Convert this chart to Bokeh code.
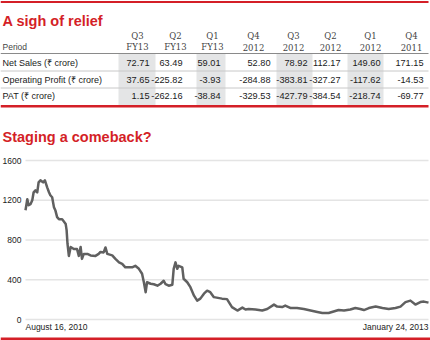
import pandas as pd
from bokeh.plotting import figure
from bokeh.models import Range1d
from bokeh.core.properties import value
from bokeh.embed import file_html
from bokeh.resources import INLINE

# ---------------- data ----------------
quarters = ["Q3", "Q2", "Q1", "Q4", "Q3", "Q2", "Q1", "Q4"]
years = ["FY13", "FY13", "FY13", "2012", "2012", "2012", "2012", "2011"]
row_labels = ["Net Sales (\u20b9 crore)", "Operating Profit (\u20b9 crore)", "PAT (\u20b9 crore)"]
net_sales = [72.71, 63.49, 59.01, 52.80, 78.92, 112.17, 149.60, 171.15]
op_profit = [37.65, -225.82, -3.93, -284.88, -383.81, -327.27, -117.62, -14.53]
pat = [1.15, -262.16, -38.84, -329.53, -427.79, -384.54, -218.74, -69.77]

start_date = "2010-08-16"
day_offsets = [0, 4, 7, 11, 15, 18, 22, 26, 29, 33, 39, 43, 48, 52, 55, 59, 63, 66, 70, 74,
               81, 89, 91, 93, 96, 100, 107, 114, 118, 122, 125, 129, 137, 144, 155, 162, 166,
               173, 177, 181, 192, 199, 207, 214, 221, 236, 243, 251, 258, 262, 266, 269, 277,
               284, 292, 299, 306, 310, 317, 325, 328, 332, 336, 339, 347, 350, 358, 365, 373,
               380, 387, 395, 402, 409, 417, 435, 446, 457, 469, 480, 487, 494, 509, 524, 535,
               550, 557, 568, 575, 587, 601, 616, 631, 646, 657, 671, 682, 693, 705, 719, 730,
               741, 749, 760, 775, 790, 804, 819, 830, 841, 852, 863, 874, 882, 892]
prices = [1100, 1210, 1150, 1160, 1200, 1280, 1300, 1280, 1380, 1400, 1380, 1400, 1330, 1280,
          1250, 1230, 1130, 1100, 1030, 1010, 1010, 960, 900, 760, 640, 730, 710, 710, 640, 730,
          610, 660, 660, 645, 640, 660, 680, 675, 725, 660, 645, 610, 575, 560, 525, 525, 540,
          510, 460, 375, 275, 375, 360, 355, 340, 360, 390, 355, 340, 350, 510, 575, 510, 540,
          525, 410, 375, 325, 240, 190, 210, 260, 290, 275, 225, 210, 205, 125, 90, 120, 100,
          105, 100, 90, 105, 150, 130, 125, 140, 115, 115, 105, 90, 75, 65, 65, 80, 95, 90, 100,
          115, 105, 95, 115, 130, 115, 105, 115, 130, 175, 190, 150, 175, 180, 170]
date_labels = ["August 16, 2010", "January 24, 2013"]
y_ticks = [0, 400, 800, 1200, 1600]
y_tick_labels = [str(v) for v in y_ticks]

dates = pd.Timestamp(start_date) + pd.to_timedelta(day_offsets, unit="D")

# ---------------- styles / layout ----------------
W, H = 430, 340
RED = "#d41f27"
SANS = "'Liberation Sans', Arial, sans-serif"
SERIF = "'DejaVu Serif', serif"
SHADE = "#e4e5e6"

# chart plot area in canvas pixels
PLOT_LEFT, PLOT_RIGHT, PLOT_TOP, PLOT_BOTTOM = 25, 428, 160, 319

col_left = [118, 155, 196, 225, 276, 312, 347, 383]
col_right = [155, 196, 225, 276, 312, 347, 383, 428]
val_right = [149, 182, 220, 270, 307, 340, 380, 423]
head_center = [137, 175, 212, 253, 293, 330, 370, 411]
row_y = [62, 79, 95]

# ranges: data ranges chosen so the chart area lands at the plot box above
t0 = dates[0].value / 1e6
t1 = dates[-1].value / 1e6
ms_per_px = (t1 - t0) / (PLOT_RIGHT - PLOT_LEFT)
x_range = Range1d(t0 - PLOT_LEFT * ms_per_px, t1 + (W - PLOT_RIGHT) * ms_per_px)
v_per_px = (max(y_ticks) - min(y_ticks)) / (PLOT_BOTTOM - PLOT_TOP)
y_range = Range1d(min(y_ticks) - (H - PLOT_BOTTOM) * v_per_px,
                  max(y_ticks) + PLOT_TOP * v_per_px)

p = figure(width=W, height=H, x_range=x_range, y_range=y_range,
           x_axis_type=None, y_axis_type=None, toolbar_location=None,
           output_backend="svg", min_border=0, outline_line_color=None,
           background_fill_color="white", border_fill_color="white")
p.extra_x_ranges = {"px": Range1d(0, W)}
p.extra_y_ranges = {"py": Range1d(H, 0)}
PX = dict(x_range_name="px", y_range_name="py")

# ---------------- table ----------------
shaded = [i for i in range(len(quarters)) if i % 2 == 0]
p.quad(left=[col_left[i] for i in shaded], right=[col_right[i] for i in shaded],
       top=[53.5] * len(shaded), bottom=[104.5] * len(shaded),
       fill_color=SHADE, line_color=None, **PX)

# red rules
p.quad(left=[0, 0, 0], right=[428, 428, 430], top=[0.5, 104.5, 337], bottom=[2.5, 107, 340],
       fill_color=RED, line_color=None, **PX)
# row rules
p.segment(x0=[0], y0=[53], x1=[428], y1=[53], line_color="#8a8a8a", line_width=1, **PX)
p.segment(x0=[0, 0], y0=[70.5, 87.5], x1=[428, 428], y1=[70.5, 87.5],
          line_color="#c8c8c8", line_width=1, **PX)

p.text(x=[2, 2], y=[20, 136], text=["A sigh of relief", "Staging a comeback?"],
       text_font=value(SANS), text_font_size="14.5px", text_font_style="bold",
       text_color=RED, text_baseline="alphabetic", **PX)

p.text(x=head_center, y=[35] * 8, text=quarters, text_font=value(SERIF),
       text_font_size="8.5px", text_color="#444444", text_align="center",
       text_baseline="middle", **PX)
p.text(x=head_center, y=[46.5] * 8, text=years, text_font=value(SERIF),
       text_font_size="8.5px", text_color="#444444", text_align="center",
       text_baseline="middle", **PX)
p.text(x=[2], y=[46.5], text=["Period"], text_font=value(SANS),
       text_font_size="8.5px", text_color="#444444", text_baseline="middle", **PX)

p.text(x=[2, 2, 2], y=row_y, text=row_labels, text_font=value(SANS),
       text_font_size="9px", text_color="#1a1a1a", text_baseline="middle", **PX)

for series, yy in zip([net_sales, op_profit, pat], row_y):
    p.text(x=val_right, y=[yy] * len(series), text=[f"{v:.2f}" for v in series],
           text_font=value(SANS), text_font_size="9.2px", text_color="#1a1a1a",
           text_align="right", text_baseline="middle", **PX)

# ---------------- chart ----------------
n = len(y_ticks)
p.segment(x0=[dates[0]] * n, x1=[dates[-1]] * n, y0=y_ticks, y1=y_ticks,
          line_color="#e4e4e4", line_width=1.5)
p.text(x=[dates[0]] * n, y=y_ticks, text=y_tick_labels, x_offset=-4,
       text_font=value(SANS), text_font_size="8.5px", text_color="#222222",
       text_align="right", text_baseline="middle")

p.line(dates, prices, line_color="#606060", line_width=2.5, line_join="round")

p.text(x=[dates[0]], y=[326], text=[date_labels[0]], text_font=value(SANS),
       text_font_size="8.5px", text_color="#222222", text_align="left",
       text_baseline="middle", y_range_name="py")
p.text(x=[dates[-1]], y=[326], text=[date_labels[1]], text_font=value(SANS),
       text_font_size="8.5px", text_color="#222222", text_align="right",
       text_baseline="middle", y_range_name="py")

open("out.html", "w").write(file_html(p, INLINE))
